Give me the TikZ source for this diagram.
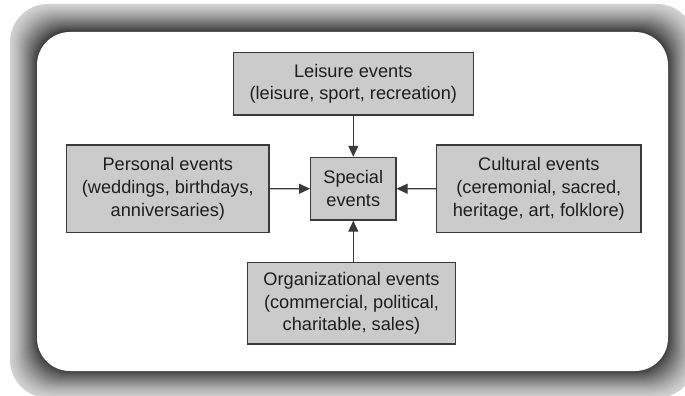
\documentclass[tikz,border=0pt]{standalone}
\usepackage{fontspec}
\setmainfont{Liberation Sans}
\usetikzlibrary{arrows.meta}
\definecolor{boxfill}{HTML}{CBCBCB}
\definecolor{boxline}{HTML}{3A3A3A}
\definecolor{txt}{HTML}{1E1E1E}
\begin{document}
\begin{tikzpicture}[x=1pt,y=-1pt,
  evbox/.style={draw=boxline, fill=boxfill, line width=1.2pt, align=center,
    inner sep=0pt, text=txt, font=\fontsize{18.2}{22.7}\selectfont},
  arr/.style={draw=boxline, line width=1.1pt, -{Triangle[length=11pt,width=10pt]}}]
\useasboundingbox (0,0) rectangle (685,396);
\begin{scope}
\clip (0,0) rectangle (685,396);
\foreach \i in {0,...,27}{
  \pgfmathsetmacro{\g}{18+58*(\i/27)^1.3}
  \pgfmathsetmacro{\r}{38-5*\i/27}
  \fill[black!\g, rounded corners=\r pt] (10+\i,4+\i) rectangle (695-\i,398-\i);
}
\fill[white, rounded corners=33pt] (37,32) rectangle (668,371);
\end{scope}
\node[evbox, minimum width=240pt, minimum height=62.7pt] (lei) at (353.3,83.7)
  {Leisure events\\(leisure, sport, recreation)};
\node[evbox, minimum width=202.3pt, minimum height=87.7pt] (per) at (167.8,188.8)
  {Personal events\\(weddings, birthdays,\\anniversaries)};
\node[evbox, minimum width=204.3pt, minimum height=87.7pt] (cul) at (538.8,188.8)
  {Cultural events\\(ceremonial, sacred,\\heritage, art, folklore)};
\node[evbox, minimum width=85.3pt, minimum height=62.7pt] (sp) at (353.3,188.7)
  {Special\\events};
\node[evbox, minimum width=208.3pt, minimum height=81.3pt] (org) at (351.5,303.3)
  {Organizational events\\(commercial, political,\\charitable, sales)};
\draw[arr] (lei) -- (sp);
\draw[arr] (per) -- (sp);
\draw[arr] (cul) -- (sp);
\draw[arr] (sp.south |- org.north) -- (sp.south);
\end{tikzpicture}
\end{document}
